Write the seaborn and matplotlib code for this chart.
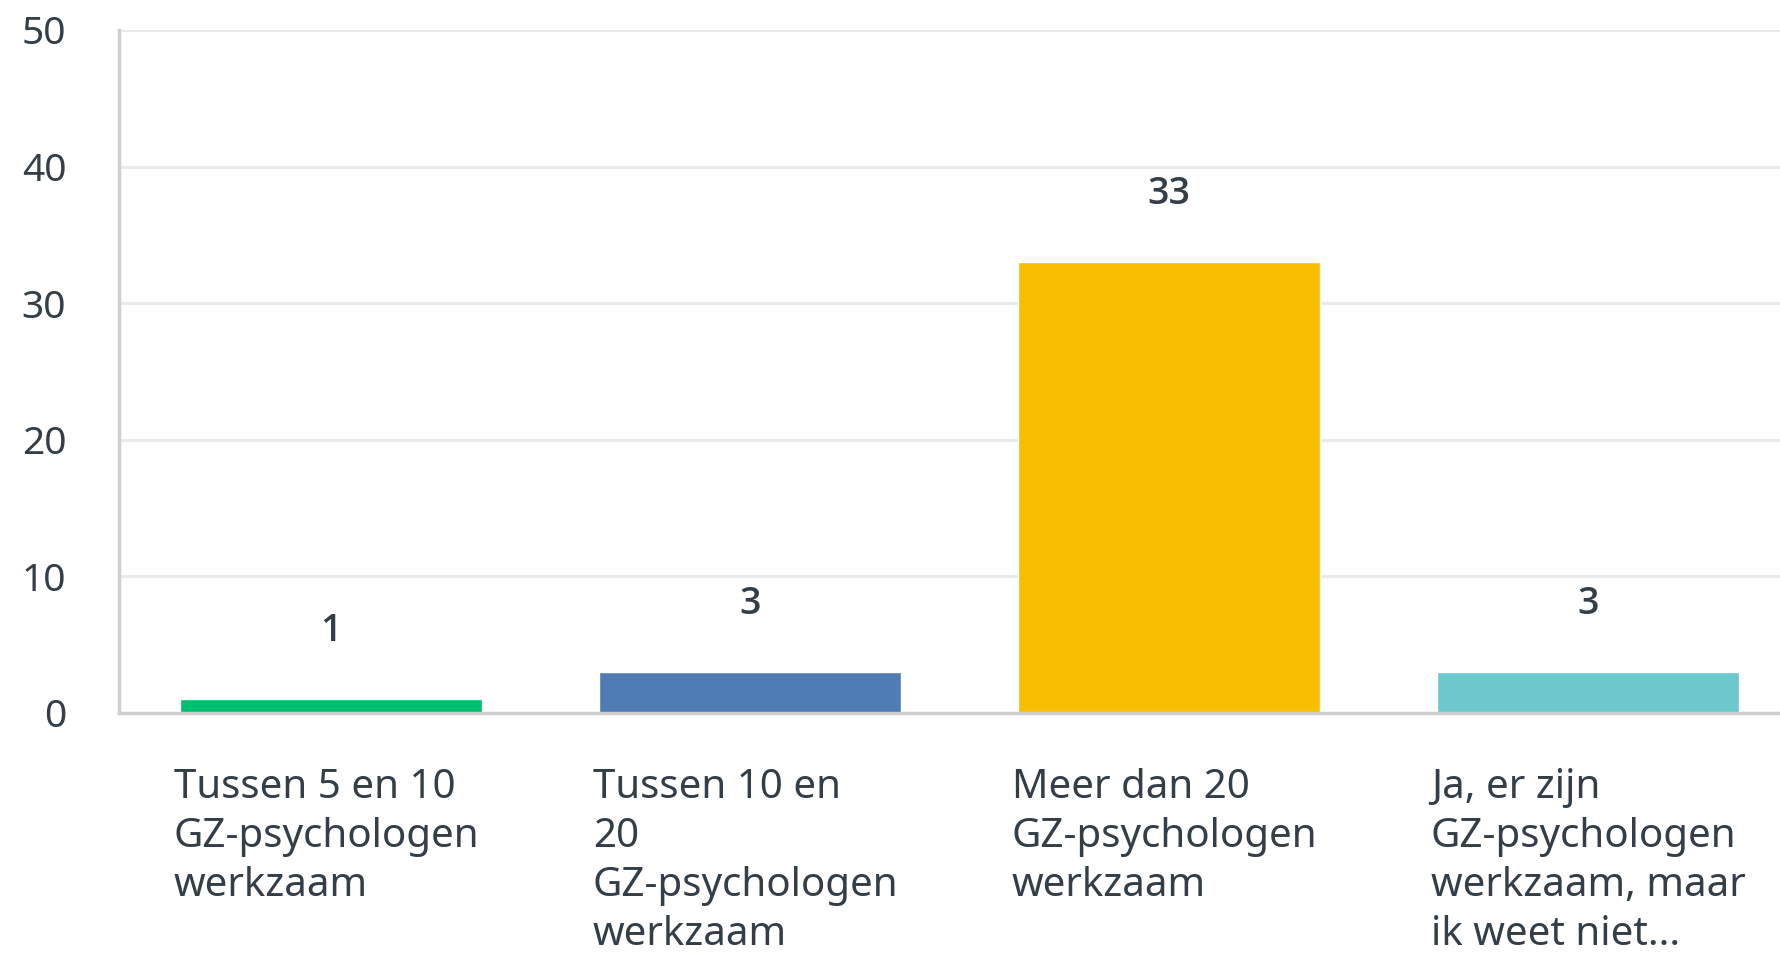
import pandas as pd
import seaborn as sns
import matplotlib.pyplot as plt

# answer categories and counts
categories = [
    "Tussen 5 en 10\nGZ-psychologen\nwerkzaam",
    "Tussen 10 en\n20\nGZ-psychologen\nwerkzaam",
    "Meer dan 20\nGZ-psychologen\nwerkzaam",
    "Ja, er zijn\nGZ-psychologen\nwerkzaam, maar\nik weet niet...",
]
counts = [1, 3, 33, 3]
bar_colors = ["#00bf6f", "#507cb6", "#f9be00", "#6bc8cd"]
y_ticks = [0, 10, 20, 30, 40, 50]

text_color = "#333e48"

df = pd.DataFrame({"answer": categories, "count": counts})

sns.set_style("white")
plt.rcParams["font.family"] = ["Noto Sans", "DejaVu Sans"]

fig = plt.figure(figsize=(17.81, 9.57), dpi=100)
ax = fig.add_axes([0.0668, 0.255, 0.9332, 0.7137])

sns.barplot(data=df, x="answer", y="count", hue="answer", palette=bar_colors,
            legend=False, width=0.72, saturation=1, ax=ax)

ax.set_ylim(0, 50)
ax.set_xlim(-0.506, 3.461)
ax.set_yticks(y_ticks)
ax.set_yticklabels([str(t) for t in y_ticks], fontsize=28, color=text_color)
ax.tick_params(axis="y", length=0, pad=38)
ax.tick_params(axis="x", length=0)
ax.set_xticks([])
ax.set_xlabel("")
ax.set_ylabel("")

ax.yaxis.grid(True, color="#e8e8e8", linewidth=2)
ax.set_axisbelow(True)
for side in ["top", "right"]:
    ax.spines[side].set_visible(False)
for side in ["left", "bottom"]:
    ax.spines[side].set_color("#cfcfcf")
    ax.spines[side].set_linewidth(2.5)

# value labels above bars (Open Sans has a real bold face)
for i, c in enumerate(counts):
    ax.annotate(str(c), (i, c), xytext=(0, 42), textcoords="offset points",
                ha="center", va="baseline", fontsize=27, fontweight="semibold",
                family=["Open Sans", "DejaVu Sans"], color=text_color)

# category labels, left aligned under each bar
for i, lab in enumerate(categories):
    ax.text(i - 0.375, -0.08, lab, transform=ax.get_xaxis_transform(),
            ha="left", va="top", fontsize=29, color=text_color,
            linespacing=1.3)

fig.savefig("out.png", dpi=100)
